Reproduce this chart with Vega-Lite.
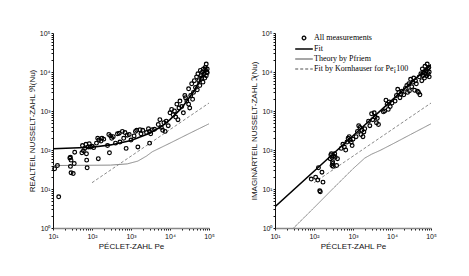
{
  "$schema": "https://vega.github.io/schema/vega-lite/v6.json",
  "background": "white",
  "padding": {"left": 28, "top": 29, "right": 5, "bottom": 5},
  "config": {
    "view": {"stroke": null},
    "font": "Liberation Sans",
    "axis": {
      "grid": false,
      "labelFont": "Liberation Sans",
      "labelFontSize": 7,
      "labelColor": "#111",
      "titleFont": "Liberation Sans",
      "titleFontSize": 8,
      "titleFontWeight": "normal",
      "titleColor": "#111",
      "tickColor": "#111",
      "domainColor": "#111",
      "tickSize": 2,
      "labelOverlap": false,
      "labelFlush": false
    },
    "axisX": {"domainColor": "#888", "domainWidth": 1.5, "labelPadding": 2, "titlePadding": 3},
    "axisY": {"labelPadding": 1, "titlePadding": 3},
    "legend": {"orient": "none", "legendX": 24, "legendY": 0, "padding": 0, "symbolSize": 64, "symbolStrokeWidth": 1.3, "rowPadding": 1, "labelOffset": 5, "labelFont": "Liberation Serif", "labelFontSize": 8, "labelColor": "black", "labelLimit": 200}
  },
  "datasets": {
    "pts": [
      {"panel":"re","pe":11,"nu":33},{"panel":"re","pe":13,"nu":40},{"panel":"re","pe":14,"nu":6.3},{"panel":"re","pe":27,"nu":62},{"panel":"re","pe":28,"nu":65},{"panel":"re","pe":29,"nu":55},{"panel":"re","pe":28,"nu":38},{"panel":"re","pe":29,"nu":26},{"panel":"re","pe":33,"nu":25},{"panel":"re","pe":35,"nu":45},{"panel":"re","pe":36,"nu":88},{"panel":"re","pe":55,"nu":85},{"panel":"re","pe":57,"nu":130},{"panel":"re","pe":60,"nu":95},{"panel":"re","pe":65,"nu":110},{"panel":"re","pe":70,"nu":140},{"panel":"re","pe":72,"nu":80},{"panel":"re","pe":73,"nu":55},{"panel":"re","pe":75,"nu":35},{"panel":"re","pe":80,"nu":120},{"panel":"re","pe":85,"nu":145},{"panel":"re","pe":90,"nu":120},{"panel":"re","pe":100,"nu":125},{"panel":"re","pe":110,"nu":115},{"panel":"re","pe":130,"nu":150},{"panel":"re","pe":140,"nu":200},{"panel":"re","pe":145,"nu":60},{"panel":"re","pe":150,"nu":180},{"panel":"re","pe":170,"nu":170},{"panel":"re","pe":180,"nu":200},{"panel":"re","pe":200,"nu":190},{"panel":"re","pe":250,"nu":130},{"panel":"re","pe":270,"nu":250},{"panel":"re","pe":280,"nu":85},{"panel":"re","pe":300,"nu":230},{"panel":"re","pe":320,"nu":200},{"panel":"re","pe":350,"nu":220},{"panel":"re","pe":400,"nu":150},{"panel":"re","pe":450,"nu":260},{"panel":"re","pe":500,"nu":270},{"panel":"re","pe":520,"nu":160},{"panel":"re","pe":600,"nu":300},{"panel":"re","pe":650,"nu":200},{"panel":"re","pe":700,"nu":280},{"panel":"re","pe":750,"nu":110},{"panel":"re","pe":800,"nu":240},{"panel":"re","pe":900,"nu":250},{"panel":"re","pe":1000,"nu":180},{"panel":"re","pe":1200,"nu":230},{"panel":"re","pe":1300,"nu":300},{"panel":"re","pe":1400,"nu":320},{"panel":"re","pe":1500,"nu":120},{"panel":"re","pe":1700,"nu":330},{"panel":"re","pe":1800,"nu":260},{"panel":"re","pe":2000,"nu":320},{"panel":"re","pe":2500,"nu":280},{"panel":"re","pe":2800,"nu":350},{"panel":"re","pe":3000,"nu":150},{"panel":"re","pe":3000,"nu":300},{"panel":"re","pe":3200,"nu":260},{"panel":"re","pe":3500,"nu":330},{"panel":"re","pe":4000,"nu":340},{"panel":"re","pe":5000,"nu":450},{"panel":"re","pe":5500,"nu":600},{"panel":"re","pe":6000,"nu":380},{"panel":"re","pe":6500,"nu":320},{"panel":"re","pe":7000,"nu":500},{"panel":"re","pe":7500,"nu":300},{"panel":"re","pe":8000,"nu":550},{"panel":"re","pe":9000,"nu":420},{"panel":"re","pe":10000,"nu":900},{"panel":"re","pe":11000,"nu":1100},{"panel":"re","pe":12000,"nu":800},{"panel":"re","pe":13000,"nu":1000},{"panel":"re","pe":14000,"nu":700},{"panel":"re","pe":15000,"nu":1500},{"panel":"re","pe":16000,"nu":600},{"panel":"re","pe":17000,"nu":1200},{"panel":"re","pe":18000,"nu":1800},{"panel":"re","pe":20000,"nu":1300},{"panel":"re","pe":22000,"nu":900},{"panel":"re","pe":24000,"nu":2500},{"panel":"re","pe":25000,"nu":2200},{"panel":"re","pe":27000,"nu":1800},{"panel":"re","pe":30000,"nu":3700},{"panel":"re","pe":30000,"nu":1500},{"panel":"re","pe":32000,"nu":1200},{"panel":"re","pe":34000,"nu":2500},{"panel":"re","pe":36000,"nu":5000},{"panel":"re","pe":38000,"nu":2000},{"panel":"re","pe":40000,"nu":3000},{"panel":"re","pe":42000,"nu":6000},{"panel":"re","pe":45000,"nu":4000},{"panel":"re","pe":48000,"nu":7500},{"panel":"re","pe":50000,"nu":3500},{"panel":"re","pe":52000,"nu":9000},{"panel":"re","pe":55000,"nu":6000},{"panel":"re","pe":58000,"nu":4500},{"panel":"re","pe":60000,"nu":11000},{"panel":"re","pe":62000,"nu":8000},{"panel":"re","pe":65000,"nu":7000},{"panel":"re","pe":68000,"nu":10000},{"panel":"re","pe":70000,"nu":5500},{"panel":"re","pe":72000,"nu":12000},{"panel":"re","pe":75000,"nu":9000},{"panel":"re","pe":78000,"nu":7000},{"panel":"re","pe":80000,"nu":13000},{"panel":"re","pe":82000,"nu":11000},{"panel":"re","pe":85000,"nu":16000},{"panel":"re","pe":85000,"nu":8000},{"panel":"re","pe":88000,"nu":10000},{"panel":"re","pe":90000,"nu":12000},{"panel":"re","pe":90000,"nu":9500},
      {"panel":"im","pe":85,"nu":18},{"panel":"im","pe":110,"nu":20},{"panel":"im","pe":125,"nu":17},{"panel":"im","pe":140,"nu":9},{"panel":"im","pe":145,"nu":8.5},{"panel":"im","pe":160,"nu":27},{"panel":"im","pe":170,"nu":15},{"panel":"im","pe":130,"nu":35},
      {"panel":"im","pe":260,"nu":60},{"panel":"im","pe":270,"nu":75},{"panel":"im","pe":280,"nu":80},{"panel":"im","pe":290,"nu":65},{"panel":"im","pe":300,"nu":50},{"panel":"im","pe":290,"nu":40},{"panel":"im","pe":300,"nu":45},{"panel":"im","pe":310,"nu":38},{"panel":"im","pe":320,"nu":70},{"panel":"im","pe":340,"nu":80},{"panel":"im","pe":350,"nu":65},{"panel":"im","pe":380,"nu":40},{"panel":"im","pe":400,"nu":60},
      {"panel":"im","pe":500,"nu":110},{"panel":"im","pe":550,"nu":140},{"panel":"im","pe":600,"nu":120},{"panel":"im","pe":650,"nu":100},{"panel":"im","pe":700,"nu":160},{"panel":"im","pe":750,"nu":200},{"panel":"im","pe":800,"nu":220},{"panel":"im","pe":850,"nu":180},{"panel":"im","pe":900,"nu":160},{"panel":"im","pe":950,"nu":130},{"panel":"im","pe":1000,"nu":190},
      {"panel":"im","pe":1200,"nu":220},{"panel":"im","pe":1300,"nu":300},{"panel":"im","pe":1400,"nu":420},{"panel":"im","pe":1500,"nu":380},{"panel":"im","pe":1600,"nu":250},{"panel":"im","pe":1700,"nu":320},{"panel":"im","pe":1800,"nu":220},{"panel":"im","pe":1900,"nu":290},{"panel":"im","pe":2000,"nu":350},
      {"panel":"im","pe":2500,"nu":550},{"panel":"im","pe":2700,"nu":420},{"panel":"im","pe":3000,"nu":850},{"panel":"im","pe":3200,"nu":600},{"panel":"im","pe":3500,"nu":900},{"panel":"im","pe":3700,"nu":700},{"panel":"im","pe":4000,"nu":500},{"panel":"im","pe":4200,"nu":650},{"panel":"im","pe":4500,"nu":450},
      {"panel":"im","pe":6000,"nu":950},{"panel":"im","pe":6500,"nu":1000},{"panel":"im","pe":7000,"nu":1900},{"panel":"im","pe":7500,"nu":1500},{"panel":"im","pe":8000,"nu":1100},{"panel":"im","pe":8500,"nu":1700},{"panel":"im","pe":9000,"nu":1300},{"panel":"im","pe":10000,"nu":1600},
      {"panel":"im","pe":12000,"nu":1800},{"panel":"im","pe":13000,"nu":2500},{"panel":"im","pe":14000,"nu":3600},{"panel":"im","pe":15000,"nu":3000},{"panel":"im","pe":16000,"nu":2200},{"panel":"im","pe":17000,"nu":2700},{"panel":"im","pe":18000,"nu":3200},{"panel":"im","pe":20000,"nu":2600},{"panel":"im","pe":22000,"nu":3800},{"panel":"im","pe":24000,"nu":4500},{"panel":"im","pe":25000,"nu":3000},{"panel":"im","pe":27000,"nu":5000},{"panel":"im","pe":28000,"nu":3300},{"panel":"im","pe":30000,"nu":6500},{"panel":"im","pe":32000,"nu":4200},{"panel":"im","pe":34000,"nu":5500},{"panel":"im","pe":36000,"nu":7000},{"panel":"im","pe":38000,"nu":3400},{"panel":"im","pe":40000,"nu":6000},{"panel":"im","pe":42000,"nu":5000},{"panel":"im","pe":45000,"nu":3200},{"panel":"im","pe":48000,"nu":3000},{"panel":"im","pe":50000,"nu":7500},{"panel":"im","pe":52000,"nu":2600},{"panel":"im","pe":55000,"nu":9000},{"panel":"im","pe":58000,"nu":6000},{"panel":"im","pe":60000,"nu":12000},{"panel":"im","pe":62000,"nu":8000},{"panel":"im","pe":65000,"nu":10000},{"panel":"im","pe":68000,"nu":7000},{"panel":"im","pe":70000,"nu":14000},{"panel":"im","pe":72000,"nu":9000},{"panel":"im","pe":75000,"nu":11000},{"panel":"im","pe":78000,"nu":8000},{"panel":"im","pe":80000,"nu":16000},{"panel":"im","pe":82000,"nu":12000},{"panel":"im","pe":85000,"nu":9000},{"panel":"im","pe":88000,"nu":13000},{"panel":"im","pe":90000,"nu":10000},{"panel":"im","pe":90000,"nu":7500}
    ],
    "lines": [
      {"panel":"re","series":"Fit","pe":10,"nu":108},{"panel":"re","series":"Fit","pe":100,"nu":118},{"panel":"re","series":"Fit","pe":300,"nu":135},{"panel":"re","series":"Fit","pe":1000,"nu":175},{"panel":"re","series":"Fit","pe":3000,"nu":270},{"panel":"re","series":"Fit","pe":6000,"nu":400},{"panel":"re","series":"Fit","pe":10000,"nu":600},{"panel":"re","series":"Fit","pe":20000,"nu":1200},{"panel":"re","series":"Fit","pe":40000,"nu":3100},{"panel":"re","series":"Fit","pe":60000,"nu":6500},{"panel":"re","series":"Fit","pe":90000,"nu":14000},
      {"panel":"re","series":"Theory by Pfriem","pe":10,"nu":40},{"panel":"re","series":"Theory by Pfriem","pe":300,"nu":41},{"panel":"re","series":"Theory by Pfriem","pe":800,"nu":44},{"panel":"re","series":"Theory by Pfriem","pe":1500,"nu":52},{"panel":"re","series":"Theory by Pfriem","pe":2500,"nu":70},{"panel":"re","series":"Theory by Pfriem","pe":3500,"nu":90},{"panel":"re","series":"Theory by Pfriem","pe":10000,"nu":150},{"panel":"re","series":"Theory by Pfriem","pe":30000,"nu":260},{"panel":"re","series":"Theory by Pfriem","pe":100000,"nu":470},
      {"panel":"re","series":"Fit by Kornhauser for Pe¡100","pe":100,"nu":14.5},{"panel":"re","series":"Fit by Kornhauser for Pe¡100","pe":100000,"nu":1600},
      {"panel":"im","series":"Fit","pe":10,"nu":3.5},{"panel":"im","series":"Fit","pe":100,"nu":28.5},{"panel":"im","series":"Fit","pe":1000,"nu":232},{"panel":"im","series":"Fit","pe":10000,"nu":1900},{"panel":"im","series":"Fit","pe":100000,"nu":15500},
      {"panel":"im","series":"Theory by Pfriem","pe":30,"nu":1},{"panel":"im","series":"Theory by Pfriem","pe":100,"nu":3.3},{"panel":"im","series":"Theory by Pfriem","pe":300,"nu":10},{"panel":"im","series":"Theory by Pfriem","pe":1000,"nu":33},{"panel":"im","series":"Theory by Pfriem","pe":2000,"nu":62},{"panel":"im","series":"Theory by Pfriem","pe":3000,"nu":78},{"panel":"im","series":"Theory by Pfriem","pe":5000,"nu":98},{"panel":"im","series":"Theory by Pfriem","pe":10000,"nu":140},{"panel":"im","series":"Theory by Pfriem","pe":30000,"nu":250},{"panel":"im","series":"Theory by Pfriem","pe":100000,"nu":470},
      {"panel":"im","series":"Fit by Kornhauser for Pe¡100","pe":100,"nu":14.5},{"panel":"im","series":"Fit by Kornhauser for Pe¡100","pe":100000,"nu":1600}
    ]
  },
  "spacing": 35,
  "resolve": {"scale": {"color": "independent", "shape": "independent", "strokeDash": "independent"}},
  "hconcat": [
    {
      "width": 156,
      "height": 195,
      "encoding": {
        "x": {"field": "pe", "type": "quantitative", "scale": {"type": "log", "domain": [10, 100000]},
          "axis": {"title": "PÉCLET-ZAHL   Pe",
            "values": [10,20,30,40,50,60,70,80,90,100,200,300,400,500,600,700,800,900,1000,2000,3000,4000,5000,6000,7000,8000,9000,10000,20000,30000,40000,50000,60000,70000,80000,90000,100000],
            "labelExpr": "abs(log(datum.value)/LN10 - round(log(datum.value)/LN10)) < 0.001 ? '10' + ['⁰','¹','²','³','⁴','⁵'][round(log(datum.value)/LN10)] : ''"}},
        "y": {"field": "nu", "type": "quantitative", "scale": {"type": "log", "domain": [1, 100000]},
          "axis": {"title": "REALTEIL NUSSELT-ZAHL    ℜ(Nu)",
            "values": [1,2,3,4,5,6,7,8,9,10,20,30,40,50,60,70,80,90,100,200,300,400,500,600,700,800,900,1000,2000,3000,4000,5000,6000,7000,8000,9000,10000,20000,30000,40000,50000,60000,70000,80000,90000,100000],
            "labelExpr": "abs(log(datum.value)/LN10 - round(log(datum.value)/LN10)) < 0.001 ? '10' + ['⁰','¹','²','³','⁴','⁵'][round(log(datum.value)/LN10)] : ''"}}
      },
      "layer": [
        {"data": {"name": "lines"}, "transform": [{"filter": "datum.panel == 're' && datum.series == 'Fit'"}],
          "mark": {"type": "line", "color": "black", "strokeWidth": 1.6, "clip": true}, "encoding": {}},
        {"data": {"name": "lines"}, "transform": [{"filter": "datum.panel == 're' && datum.series != 'Fit'"}],
          "mark": {"type": "line", "strokeWidth": 1, "clip": true},
          "encoding": {
            "color": {"field": "series", "type": "nominal", "scale": {"domain": ["Theory by Pfriem", "Fit by Kornhauser for Pe¡100"], "range": ["#8a8a8a", "#8a8a8a"]}, "legend": null},
            "strokeDash": {"field": "series", "type": "nominal", "scale": {"domain": ["Theory by Pfriem", "Fit by Kornhauser for Pe¡100"], "range": [[1, 0], [3, 2]]}, "legend": null}
          }},
        {"data": {"name": "pts"}, "transform": [{"filter": "datum.panel == 're'"}],
          "mark": {"type": "point", "shape": "M -0.45 0 A 0.45 0.45 0 1 0 0.45 0 A 0.45 0.45 0 1 0 -0.45 0 Z", "size": 70, "filled": false, "color": "black", "strokeWidth": 1.2, "opacity": 1}, "encoding": {}}
      ]
    },
    {
      "width": 156,
      "height": 195,
      "encoding": {
        "x": {"field": "pe", "type": "quantitative", "scale": {"type": "log", "domain": [10, 100000]},
          "axis": {"title": "PÉCLET-ZAHL   Pe",
            "values": [10,20,30,40,50,60,70,80,90,100,200,300,400,500,600,700,800,900,1000,2000,3000,4000,5000,6000,7000,8000,9000,10000,20000,30000,40000,50000,60000,70000,80000,90000,100000],
            "labelExpr": "abs(log(datum.value)/LN10 - round(log(datum.value)/LN10)) < 0.001 ? '10' + ['⁰','¹','²','³','⁴','⁵'][round(log(datum.value)/LN10)] : ''"}},
        "y": {"field": "nu", "type": "quantitative", "scale": {"type": "log", "domain": [1, 100000]},
          "axis": {"title": "IMAGINÄRTEIL NUSSELT-ZAHL    ℑ(Nu)",
            "values": [1,2,3,4,5,6,7,8,9,10,20,30,40,50,60,70,80,90,100,200,300,400,500,600,700,800,900,1000,2000,3000,4000,5000,6000,7000,8000,9000,10000,20000,30000,40000,50000,60000,70000,80000,90000,100000],
            "labelExpr": "abs(log(datum.value)/LN10 - round(log(datum.value)/LN10)) < 0.001 ? '10' + ['⁰','¹','²','³','⁴','⁵'][round(log(datum.value)/LN10)] : ''"}}
      },
      "layer": [
        {"data": {"name": "lines"}, "transform": [{"filter": "datum.panel == 'im' && datum.series == 'Fit'"}],
          "mark": {"type": "line", "color": "black", "strokeWidth": 1.6, "clip": true}, "encoding": {}},
        {"data": {"name": "lines"}, "transform": [{"filter": "datum.panel == 'im' && datum.series != 'Fit'"}],
          "mark": {"type": "line", "strokeWidth": 1, "clip": true},
          "encoding": {
            "color": {"field": "series", "type": "nominal",
              "scale": {"domain": ["All measurements", "Fit", "Theory by Pfriem", "Fit by Kornhauser for Pe¡100"], "range": ["black", "black", "#8a8a8a", "#8a8a8a"]},
              "legend": {"title": null}},
            "strokeDash": {"field": "series", "type": "nominal",
              "scale": {"domain": ["All measurements", "Fit", "Theory by Pfriem", "Fit by Kornhauser for Pe¡100"], "range": [[1, 0], [1, 0], [1, 0], [3, 2]]},
              "legend": {"title": null}}
          }},
        {"data": {"name": "pts"}, "transform": [{"filter": "datum.panel == 'im'"}, {"calculate": "'All measurements'", "as": "series"}],
          "mark": {"type": "point", "size": 70, "filled": false, "strokeWidth": 1.2, "opacity": 1},
          "encoding": {
            "shape": {"field": "series", "type": "nominal",
              "scale": {"domain": ["All measurements", "Fit", "Theory by Pfriem", "Fit by Kornhauser for Pe¡100"], "range": ["M -0.45 0 A 0.45 0.45 0 1 0 0.45 0 A 0.45 0.45 0 1 0 -0.45 0 Z", "M -2.2 0 L 2.2 0", "M -2.2 0 L 2.2 0", "M -2.2 0 L 2.2 0"]},
              "legend": {"title": null}},
            "color": {"field": "series", "type": "nominal",
              "scale": {"domain": ["All measurements", "Fit", "Theory by Pfriem", "Fit by Kornhauser for Pe¡100"], "range": ["black", "black", "#8a8a8a", "#8a8a8a"]},
              "legend": {"title": null}}
          }}
      ]
    }
  ]
}
